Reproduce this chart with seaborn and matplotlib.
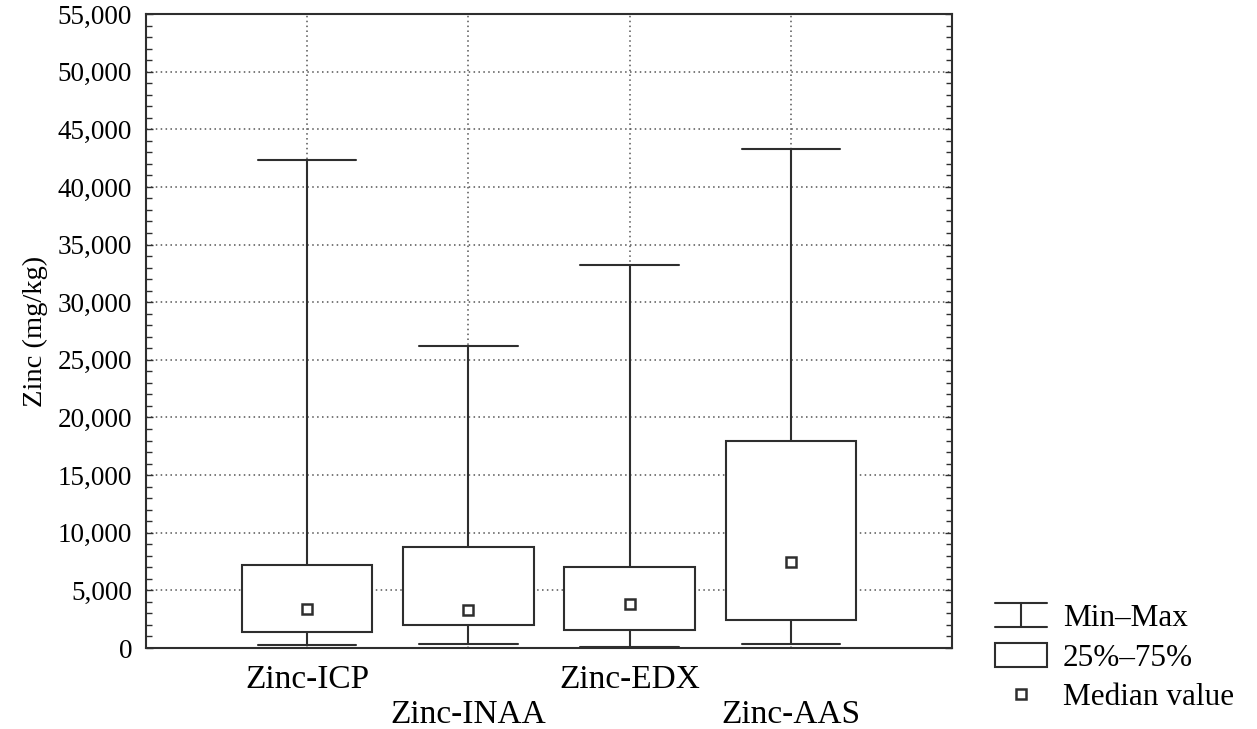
import matplotlib
matplotlib.use("Agg")
import matplotlib.pyplot as plt
import pandas as pd
import seaborn as sns
from matplotlib.ticker import FuncFormatter, MultipleLocator
from matplotlib.lines import Line2D
from matplotlib.patches import Rectangle
from matplotlib.legend_handler import HandlerBase

# Five-number summaries of zinc concentration (mg/kg) per analytical method
methods = ["Zinc-ICP", "Zinc-INAA", "Zinc-EDX", "Zinc-AAS"]
zinc_min = [300, 320, 50, 320]
zinc_q1 = [1400, 2000, 1600, 2400]
zinc_median = [3400, 3300, 3800, 7500]
zinc_q3 = [7200, 8800, 7050, 18000]
zinc_max = [42300, 26200, 33200, 43300]

y_ticks = list(range(0, 55001, 5000))

INK = "#2e2e2e"

sns.set_theme(style="white")
plt.rcParams["font.family"] = ["Liberation Serif", "DejaVu Serif"]
plt.rcParams["axes.edgecolor"] = INK
plt.rcParams["text.color"] = "black"

# Long table: each method contributes its min, q1, median, q3, max; with five
# points the linear quantiles fall exactly on q1/median/q3 and whis=(0,100)
# puts the whiskers at the min and max.
rows = []
for m, a, b, c, d, e in zip(methods, zinc_min, zinc_q1, zinc_median, zinc_q3, zinc_max):
    for v in (a, b, c, d, e):
        rows.append({"method": m, "zinc": v})
df = pd.DataFrame(rows)
med_df = pd.DataFrame({"method": methods, "zinc": zinc_median})

fig = plt.figure(figsize=(12.57, 7.29), dpi=100)
ax = fig.add_axes([146 / 1257, 1 - 648 / 729, (952 - 146) / 1257, (648 - 14) / 729])

sns.boxplot(
    data=df, x="method", y="zinc", order=methods, whis=(0, 100),
    width=0.81, color="white", linecolor=INK, linewidth=1.5,
    showfliers=False, saturation=1, medianprops={"visible": False},
    capwidths=0.61, ax=ax,
)
sns.pointplot(
    data=med_df, x="method", y="zinc", order=methods, linestyle="none",
    marker="s", markersize=7.5, markerfacecolor="white", markeredgecolor=INK,
    markeredgewidth=1.8, color=INK, errorbar=None, ax=ax,
)

ax.set_xlim(-1, 4)
ax.set_ylim(0, 55000)
ax.set_yticks(y_ticks)
ax.yaxis.set_minor_locator(MultipleLocator(1000))
ax.yaxis.set_major_formatter(FuncFormatter(lambda v, p: f"{int(v):,}"))
ax.set_xticks(range(len(methods)))
ax.set_xticklabels(methods, fontsize=24, color="black")
ax.tick_params(axis="y", which="both", direction="in", left=True, right=True,
               color=INK, labelsize=19.5, labelcolor="black", pad=10)
ax.tick_params(axis="y", which="major", length=5, width=1)
ax.tick_params(axis="y", which="minor", length=4.5, width=1)
ax.tick_params(axis="x", length=0)
for i, t in enumerate(ax.xaxis.get_major_ticks()):
    t.set_pad(12 if i % 2 == 0 else 37)

ax.set_xlabel("")
ax.set_ylabel("Zinc (mg/kg)", fontsize=20.5, color="black", labelpad=7)

ax.set_axisbelow(True)
ax.grid(True, which="major", linestyle=(0, (1, 2.2)), color="#555555", linewidth=1.1)
for s in ax.spines.values():
    s.set_visible(True)
    s.set_color(INK)
    s.set_linewidth(1.5)


class WhiskerHandler(HandlerBase):
    def create_artists(self, legend, orig_handle, xdescent, ydescent,
                       width, height, fontsize, trans):
        x0, x1 = -xdescent, -xdescent + width
        y0, y1 = -ydescent - 0.05 * height, -ydescent + 1.05 * height
        xm = (x0 + x1) / 2
        kw = dict(color=INK, lw=1.5, transform=trans)
        return [Line2D([x0, x1], [y0, y0], **kw),
                Line2D([x0, x1], [y1, y1], **kw),
                Line2D([xm, xm], [y0, y1], **kw)]


class BoxHandler(HandlerBase):
    def create_artists(self, legend, orig_handle, xdescent, ydescent,
                       width, height, fontsize, trans):
        r = Rectangle((-xdescent, -ydescent - 0.05 * height), width, 1.1 * height,
                      facecolor="white", edgecolor=INK, lw=1.5, transform=trans)
        return [r]


whisker_handle = Line2D([], [])
box_handle = Rectangle((0, 0), 1, 1)
median_handle = Line2D([], [], linestyle="none", marker="s", markersize=7.5,
                       markerfacecolor="white", markeredgecolor=INK, markeredgewidth=1.8)

fig.legend(
    [whisker_handle, box_handle, median_handle],
    ["Min\u2013Max", "25%\u201375%", "Median value"],
    handler_map={whisker_handle: WhiskerHandler(), box_handle: BoxHandler()},
    loc="upper left", bbox_to_anchor=(975 / 1257, 1 - 584 / 729),
    frameon=False, fontsize=22.5, handlelength=1.66, handletextpad=0.5,
    labelspacing=0.33, borderpad=0.15, labelcolor="black",
)

fig.savefig("out.png", dpi=100, facecolor="white")
